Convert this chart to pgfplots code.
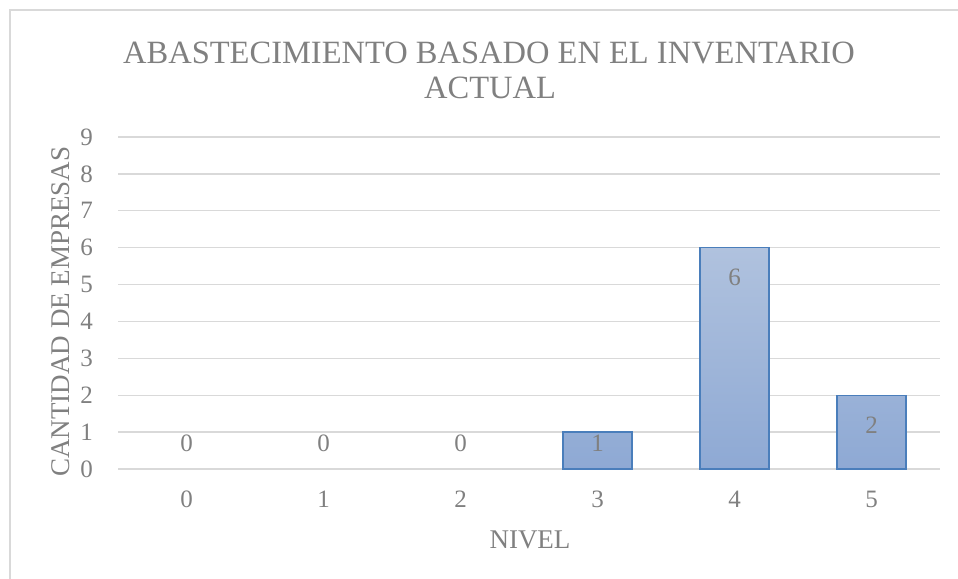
\documentclass[border=0pt]{standalone}
\usepackage{fontspec}
\setmainfont{Liberation Serif}
\usepackage{pgfplots}
\pgfplotsset{compat=1.18}

\definecolor{gridgray}{RGB}{217,217,217}
\definecolor{txtgray}{RGB}{128,128,128}
\definecolor{baredge}{RGB}{74,126,187}
\definecolor{bartop}{RGB}{176,194,222}
\definecolor{barbot}{RGB}{142,169,212}

\begin{document}
\begin{tikzpicture}
\useasboundingbox (0,0) rectangle (958bp,579bp);
\clip (0,0) rectangle (958bp,579bp);
% chart frame
\draw[gridgray, line width=1.3bp] (10bp,569bp) rectangle (975bp,-10bp);

\begin{axis}[
  at={(118bp,110bp)}, anchor=south west,
  scale only axis, width=822bp, height=332bp,
  xmin=-0.5, xmax=5.5, ymin=0, ymax=9,
  xtick={0,1,2,3,4,5}, ytick={0,1,...,9},
  axis line style={draw=none},
  major tick length=0pt,
  ymajorgrids, grid style={gridgray, line width=1.3bp},
  /pgf/number format/assume math mode=true,
  tick label style={font=\fontsize{25bp}{30bp}\selectfont, text=txtgray, inner sep=0pt},
  yticklabel style={anchor=east, xshift=-25bp},
  xticklabel style={anchor=north, yshift=-22bp},
  unbounded coords=jump,
  clip=false,
]
% bars (empty categories drawn as nothing)
\addplot[ybar, bar width=69bp, bar shift=0pt,
  draw=baredge, line width=1.3bp,
  top color=bartop, bottom color=barbot,
  y filter/.expression={y==0 ? nan : y},
] coordinates {(0,0) (1,0) (2,0) (3,1) (4,6) (5,2)};
% value labels
\addplot[ybar, bar width=69bp, bar shift=0pt, draw=none, fill=none,
  nodes near coords,
  point meta=y,
  visualization depends on={y \as \rawy},
  every node near coord/.append style={
    anchor=center, inner sep=0pt,
    font=\fontsize{25bp}{30bp}\selectfont, text=txtgray,
    /pgf/number format/assume math mode=true,
    shift={(axis direction cs:0,{max(-0.81,0.70-\rawy)})}},
] coordinates {(0,0) (1,0) (2,0) (3,1) (4,6) (5,2)};
\end{axis}

% titles
\node[anchor=base, text=txtgray, font=\fontsize{32.5bp}{38bp}\selectfont, inner sep=0pt]
  at (489bp,515.7bp) {ABASTECIMIENTO BASADO EN EL INVENTARIO};
\node[anchor=base, text=txtgray, font=\fontsize{32.5bp}{38bp}\selectfont, inner sep=0pt]
  at (490bp,480.7bp) {ACTUAL};
\node[anchor=base, rotate=90, text=txtgray, font=\fontsize{27bp}{32bp}\selectfont, inner sep=0pt]
  at (69bp,267.5bp) {CANTIDAD DE EMPRESAS};
\node[anchor=base, text=txtgray, font=\fontsize{27bp}{32bp}\selectfont, inner sep=0pt]
  at (530bp,30.7bp) {NIVEL};
\end{tikzpicture}
\end{document}
